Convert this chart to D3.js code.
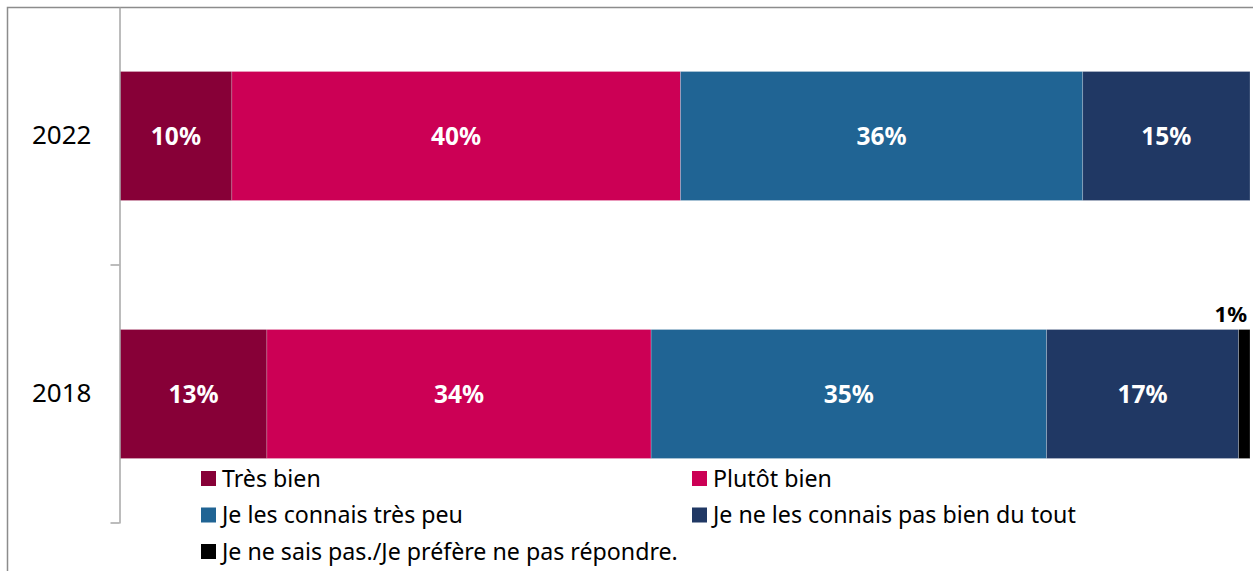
<!DOCTYPE html>
<html>
<head>
<meta charset="utf-8">
<script src="https://cdn.jsdelivr.net/npm/d3@7"></script>
<style>
  body { margin: 0; background: #fff; }
  text { font-family: "Noto Sans", sans-serif; }
</style>
</head>
<body>
<svg id="svg"></svg>
<script>
// données
const years = ['2022', '2018'];
const series = ['Très bien', 'Plutôt bien', 'Je les connais très peu', 'Je ne les connais pas bien du tout', 'Je ne sais pas./Je préfère ne pas répondre.'];
const colors = ['#870037', '#cc0055', '#206494', '#203864', '#000000'];
const values2022 = [9.9, 39.7, 35.6, 14.8, 0];
const values2018 = [13, 34, 35, 17, 1];

const width = 1253, height = 571;
const svg = d3.select('#svg').attr('width', width).attr('height', height);

const x = d3.scaleLinear().domain([0, 100]).range([120, 1250]);
const y = d3.scaleBand().domain(years).range([7, 523]).paddingInner(0.5).paddingOuter(0.25);

const rows = years.map((yr, i) => {
  const vals = i === 0 ? values2022 : values2018;
  const row = { year: yr };
  series.forEach((s, j) => row[s] = vals[j]);
  return row;
});
const stack = d3.stack().keys(series)(rows);

// cadre
svg.append('path')
  .attr('d', `M7.5,${height} V7.5 H${width}`)
  .attr('fill', 'none').attr('stroke', '#8c8c8c').attr('stroke-width', 1.5);

const layers = svg.append('g').selectAll('g')
  .data(stack).enter().append('g')
  .attr('fill', (d, i) => colors[i]);

layers.selectAll('rect')
  .data(d => d.map(p => Object.assign(p, { key: d.key })))
  .enter().append('rect')
  .attr('x', d => x(d[0]))
  .attr('width', d => x(d[1]) - x(d[0]))
  .attr('y', d => y(d.data.year))
  .attr('height', y.bandwidth())
  .attr('stroke', 'rgba(255,255,255,0.35)')
  .attr('stroke-width', 0.6);

// étiquettes
const fmt = v => d3.format('.0f')(v) + '%';
layers.selectAll('text.lab')
  .data(d => d.filter(p => p[1] - p[0] >= 5))
  .enter().append('text')
  .attr('class', 'lab')
  .attr('x', d => (x(d[0]) + x(d[1])) / 2)
  .attr('y', d => y(d.data.year) + y.bandwidth() / 2)
  .attr('dy', '0.36em')
  .attr('text-anchor', 'middle')
  .attr('fill', '#fff')
  .attr('font-weight', 'bold')
  .attr('font-size', 24.5)
  .text(d => fmt(d[1] - d[0]));

// petite valeur au-dessus de la barre
layers.selectAll('text.small')
  .data(d => d.filter(p => p[1] - p[0] > 0 && p[1] - p[0] < 5))
  .enter().append('text')
  .attr('class', 'small')
  .attr('x', d => x(d[1]) - 3)
  .attr('y', d => y(d.data.year) - 8)
  .attr('text-anchor', 'end')
  .attr('fill', '#000')
  .attr('font-weight', 'bold')
  .attr('font-size', 22)
  .text(d => fmt(d[1] - d[0]));

// axe
const axis = svg.append('g')
  .attr('transform', 'translate(119.5,0)')
  .call(d3.axisLeft(y).tickSize(0).tickPadding(28));
axis.select('.domain').attr('stroke', '#a6a6a6').attr('stroke-width', 1.5);
axis.selectAll('text').attr('font-size', 26).attr('fill', '#000').attr('font-family', '"Noto Sans", sans-serif');
axis.selectAll('.sep')
  .data([y.step() + y(years[0]) - y.step() * 0.25, 523])
  .enter().append('line')
  .attr('x1', -9).attr('x2', 0)
  .attr('y1', d => d).attr('y2', d => d)
  .attr('stroke', '#a6a6a6').attr('stroke-width', 1.5);

// légende
const legend = svg.append('g').selectAll('g')
  .data(series).enter().append('g')
  .attr('transform', (d, i) => `translate(${[201, 692][i % 2]},${471 + Math.floor(i / 2) * 36.5})`);
legend.append('rect')
  .attr('width', 15).attr('height', 15)
  .attr('fill', (d, i) => colors[i]);
legend.append('text')
  .attr('x', 21).attr('y', 7.5).attr('dy', '0.36em')
  .attr('font-size', 23.2).attr('fill', '#000')
  .text(d => d);
</script>
</body>
</html>
